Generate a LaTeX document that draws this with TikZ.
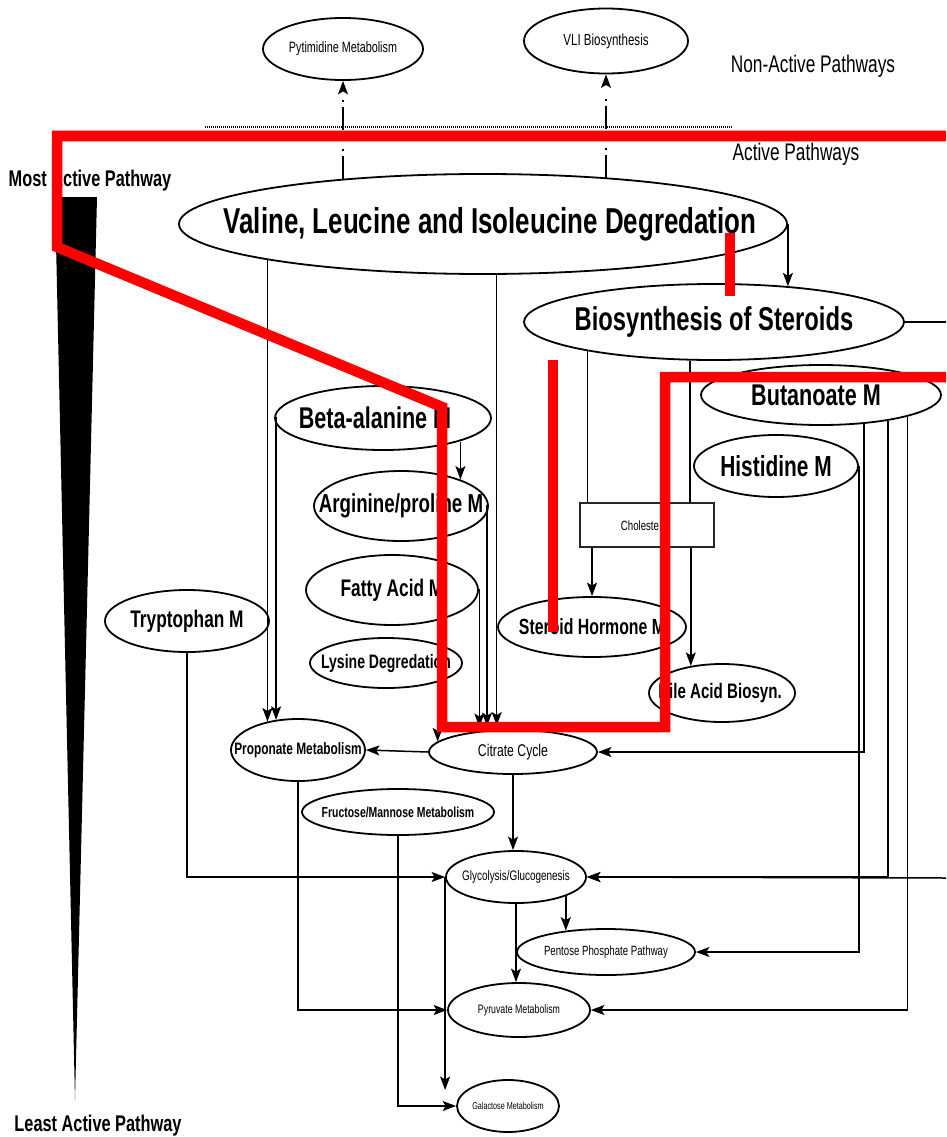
\documentclass[tikz,border=0pt]{standalone}
\usepackage{fontspec}
\usetikzlibrary{arrows.meta,shapes.geometric}
\newfontfamily\nf[FakeStretch=0.72]{Liberation Sans}
\newcommand{\bsz}[1]{\nf\bfseries\fontsize{#1}{#1}\selectfont}
\newcommand{\rsz}[1]{\nf\fontsize{#1}{#1}\selectfont}

\begin{document}
\begin{tikzpicture}[x=1pt,y=-1pt,
  ell/.style n args={2}{ellipse, draw, fill=white, line width=1.8pt, inner sep=0pt,
    minimum width=#1pt, minimum height=#2pt},
  tip/.style={-{Stealth[length=13.5pt,width=10pt,inset=3pt]}},
  conn/.style={line width=1.5pt, tip},
  plainline/.style={line width=1.5pt},
  upline/.style={line width=1.5pt, dash pattern=on 23pt off 5pt on 2pt off 19pt, tip},
  hl/.style={draw=red, line width=10.5pt, miter limit=10},
  caption/.style={inner sep=0pt}
]
\useasboundingbox (0,0) rectangle (946,1137);
\fill[white] (0,0) rectangle (946,1137);
\clip (0,0) rectangle (946,1137);

% activity scale
\fill[black] (55,197) -- (97,197) -- (75,1100) -- cycle;
\node[caption, font=\bsz{22.7}] (most) at (90,181) {Most Active Pathway};
\node[caption, font=\bsz{22.7}] (least) at (98,1126) {Least Active Pathway};

% region captions and divider
\node[caption, font=\rsz{24}] (nonact) at (813,66) {Non-Active Pathways};
\node[caption, font=\rsz{24}] (act) at (796,154) {Active Pathways};
\draw[black, line width=2.5pt, dash pattern=on 1pt off 1pt] (205,127) -- (732,127);

% pathways (labels sit at the centre so the ellipse keeps its own size)
\node[ell={160}{62}, label={[font=\rsz{15}]center:{Pytimidine Metabolism}}] (pyt) at (343,49) {};
\node[ell={164}{65}, label={[font=\rsz{16}]center:{VLI Biosynthesis}}] (vli) at (606,41) {};
\node[ell={608}{100}, label={[font=\bsz{36}, xshift=7pt]center:{Valine, Leucine and Isoleucine Degredation}}] (val) at (483,224) {};
\node[ell={380}{76}, label={[font=\bsz{33}]center:{Biosynthesis of Steroids}}] (ster) at (714,322) {};
\node[ell={240}{60}, label={[font=\bsz{30}, xshift=-5pt]center:{Butanoate M}}] (but) at (821,395) {};
\node[ell={164}{62}, label={[font=\bsz{29}]center:{Histidine M}}] (his) at (776,466) {};
\node[draw=black!85, line width=1.6pt, fill=white, minimum width=134pt, minimum height=44pt, inner sep=0pt] (chol) at (647,525) {};
\node[caption, font=\rsz{13.4}] (cholt) at (640,526) {Choleste};
\node[ell={188}{60}, label={[font=\bsz{22}]center:{Steroid Hormone M}}] (shm) at (592,627) {};
\node[ell={146}{58}, label={[font=\bsz{21}, xshift=-2pt]center:{Bile Acid Biosyn.}}] (bile) at (722,693) {};
\node[ell={216}{64}, label={[font=\bsz{30}, xshift=-8pt]center:{Beta-alanine M}}] (beta) at (383,418) {};
\node[ell={174}{70}, label={[font=\bsz{26}]center:{Arginine/proline M}}] (arg) at (401,506) {};
\node[ell={172}{70}, label={[font=\bsz{24}]center:{Fatty Acid M}}] (fatty) at (392,590) {};
\node[ell={152}{50}, label={[font=\bsz{19.5}]center:{Lysine Degredation}}] (lys) at (386,663) {};
\node[ell={164}{62}, label={[font=\bsz{24}]center:{Tryptophan M}}] (tryp) at (187,621) {};
\node[ell={134}{62}, label={[font=\bsz{16.5}]center:{Proponate Metabolism}}] (prop) at (298,750) {};
\node[ell={168}{44}, label={[font=\rsz{17}]center:{Citrate Cycle}}] (cit) at (513,752) {};
\node[ell={192}{46}, label={[font=\bsz{14.5}]center:{Fructose/Mannose Metabolism}}] (fru) at (398,812) {};
\node[ell={140}{52}, label={[font=\rsz{13.8}]center:{Glycolysis/Glucogenesis}}] (glyc) at (516,877) {};
\node[ell={178}{46}, label={[font=\rsz{13.4}]center:{Pentose Phosphate Pathway}}] (pent) at (606,952) {};
\node[ell={142}{54}, label={[font=\rsz{12.2}]center:{Pyruvate Metabolism}}] (pyr) at (519,1010) {};
\node[ell={102}{52}, label={[font=\rsz{10}]center:{Galactose Metabolism}}] (gal) at (508,1106) {};

% free ends at the right margin and below glycolysis
\coordinate (rA) at (946,322);
\coordinate (rB) at (946,878);
\coordinate (galtop) at (445,1090);

% links to non-active pathways
\draw[upline] (pyt.south |- val.162.4) -- (pyt.south);
\draw[upline] (vli.south |- val.20.4) -- (vli.south);

% links between active pathways
\draw[conn] (val.east) -- (val.east |- ster.25.7);
\draw[conn] (prop.137.3 |- val.189.3) -- (prop.137.3);
\draw[conn, shorten >=4pt] (cit.126.5 |- val.285.7) -- (cit.126.5);
\draw[plainline] (ster.east) -- (rA);
\draw[conn] (rB) -- (glyc.east);

\draw[plainline] (ster.193.6) -- (ster.193.6 |- chol.north);
\draw[conn] (shm.north |- chol.south) -- (shm.north);
\draw[plainline] (ster.238.6) -- (ster.238.6 |- chol.north);
\draw[conn] (bile.139.7 |- chol.south) -- (bile.139.7);

\draw[conn] (beta.west) -| (prop.126.9);
\draw[conn] (arg.24.9 |- beta.342.9) -- (arg.24.9);
\draw[conn] (cit.172 |- beta.333.9) -- (cit.172);
\draw[conn, shorten >=4pt] (arg.east) -| (cit.140);
\draw[conn, shorten >=4pt] (fatty.east) -| (cit.148.5);

\draw[conn] (but.326.9) |- (cit.east);
\draw[conn] (but.339.2) |- (glyc.east);
\draw[conn] (but.346) |- (pyr.east);
\draw[conn] (his.east) |- (pent.east);

\draw[conn] (cit.west) -- (prop.east);
\draw[conn] (cit.south) -- (cit.south |- glyc.north);
\draw[conn] (tryp.south) |- (glyc.west);
\draw[conn] (prop.south) |- (pyr.west);
\draw[conn] (fru.south) |- (gal.west);
\draw[conn] (glyc.west) -- (glyc.west |- galtop);
\draw[conn] (glyc.south) -- (glyc.south |- pyr.north);
\draw[conn] (pent.152.9 |- glyc.340) -- (pent.152.9);

% highlighted boundary
\draw[hl] (960,136) -- (57,136) -- (57,247) -- (442,407) -- (442,727) -- (665,727) -- (665,377) -- (960,377);
\draw[hl] (730,233) -- (730,296);
\draw[hl] (553,360) -- (553,632);
\end{tikzpicture}
\end{document}
